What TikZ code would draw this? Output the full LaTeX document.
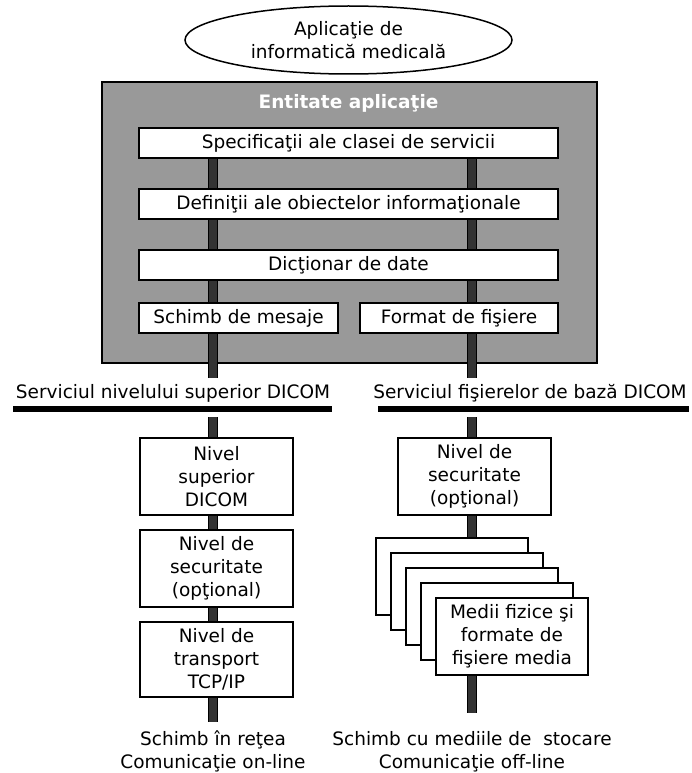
\documentclass[tikz,border=0pt]{standalone}
\usepackage{fontspec}
\setmainfont{DejaVu Sans}
\usetikzlibrary{shapes.geometric}
\definecolor{panelgray}{HTML}{999999}
\definecolor{bardark}{HTML}{333333}
\pgfdeclarelayer{panel}
\pgfdeclarelayer{bars}
\pgfsetlayers{panel,bars,main}

\begin{document}
\begin{tikzpicture}[x=1pt,y=-1pt,
  every node/.style={font=\fontsize{18.5}{23}\selectfont, inner sep=0pt},
  box/.style={draw, line width=1.5pt, fill=white, align=center},
  widebox/.style={box, minimum width=419pt, minimum height=30pt},
  halfbox/.style={box, minimum height=30pt},
  layerbox/.style={box, minimum width=153pt, minimum height=77pt},
  pagebox/.style={box, minimum width=152pt, minimum height=77pt},
  bar/.style={line width=1pt, draw=black, double=bardark, double distance=8pt},
  rule/.style={line width=5.5pt},
  caption/.style={align=center}
]
\useasboundingbox (0,0) rectangle (692,773);

% application on top
\node[ellipse, draw, line width=1.5pt, minimum width=327pt, minimum height=68pt, align=center]
  (app) at (348.5,40) {Aplicaţie de\\informatică medicală};

% application entity panel
\begin{pgfonlayer}{panel}
\node[draw, line width=1.5pt, fill=panelgray, minimum width=495pt, minimum height=281pt]
  (entity) at (349.5,222.5) {};
\end{pgfonlayer}
\node[font=\bfseries\fontsize{18.5}{23}\selectfont, text=white] (entityTitle) at (348.5,103) {Entitate aplicaţie};

\node[widebox] (spec) at (348.5,143) {Specificaţii ale clasei de servicii};
\node[widebox] (defs) at (348.5,204) {Definiţii ale obiectelor informaţionale};
\node[widebox] (dict) at (348.5,265) {Dicţionar de date};
\node[halfbox, minimum width=199pt] (msg) at (238.5,318) {Schimb de mesaje};
\node[halfbox, minimum width=198pt] (files) at (459,318) {Format de fişiere};

% service boundaries
\node (svcL) at (173,393) {Serviciul nivelului superior DICOM};
\node (svcR) at (530,393) {Serviciul fişierelor de bază DICOM};
\coordinate (ruleLa) at (13,409);
\coordinate (ruleLb) at (332,409);
\coordinate (ruleRa) at (378,409);
\coordinate (ruleRb) at (689,409);
\draw[rule] (ruleLa) -- (ruleLb);
\draw[rule] (ruleRa) -- (ruleRb);

% network stack
\node[layerbox] (upper) at (216.5,476.5) {Nivel\\superior\\DICOM};
\node[layerbox] (secL) at (216.5,568.5) {Nivel de\\securitate\\(opţional)};
\node[layerbox, minimum height=75pt] (tcp) at (216.5,659.5) {Nivel de\\transport\\TCP/IP};

% media stack
\node[layerbox] (secR) at (474.5,476.5) {Nivel de\\securitate\\(opţional)};
\node[pagebox] (page1) at (452,576.5) {};
\node[pagebox] (page2) at (467,591.5) {};
\node[pagebox] (page3) at (482,606.5) {};
\node[pagebox] (page4) at (497,621.5) {};
\node[pagebox] (media) at (512,636.5) {Medii fizice şi\\formate de\\fişiere media};

% exchange captions
\node[caption] (online) at (213,751.5) {Schimb în reţea\\Comunicaţie on-line};
\node[caption] (offline) at (472,751.5) {Schimb cu mediile de\ \ stocare\\Comunicaţie off-line};

% vertical bars behind the boxes
\coordinate (lA) at (213,378);
\coordinate (lB) at (213,417);
\coordinate (lEnd) at (213,722);
\coordinate (rA) at (472,378);
\coordinate (rB) at (472,417);
\coordinate (rEnd) at (472,713);
\begin{pgfonlayer}{bars}
\draw[bar] (lA |- spec.center) -- (lA);
\draw[bar] (lB) -- (lEnd);
\draw[bar] (rA |- spec.center) -- (rA);
\draw[bar] (rB) -- (rEnd);
\end{pgfonlayer}
\end{tikzpicture}
\end{document}
